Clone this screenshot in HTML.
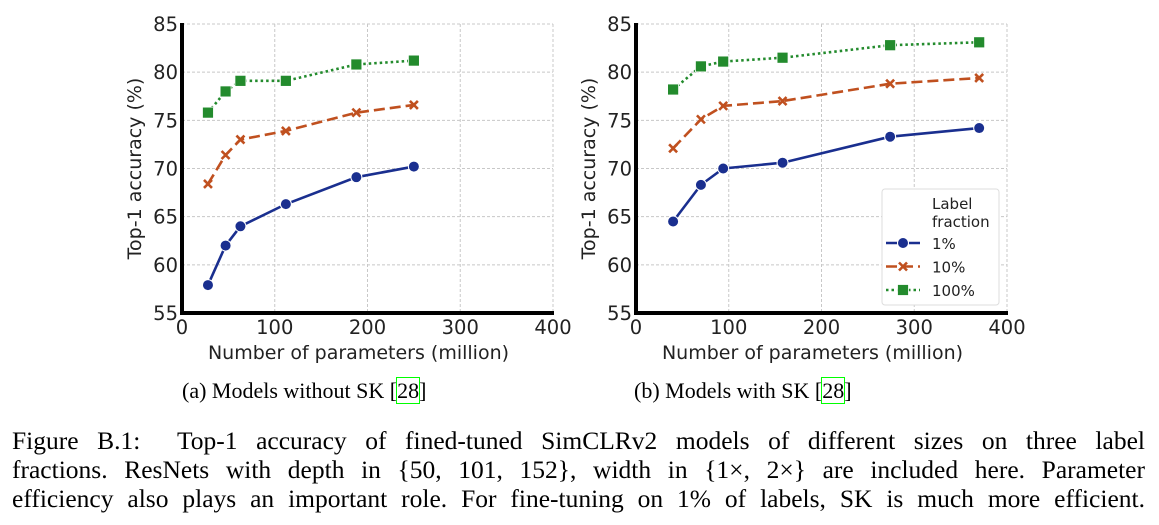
<!DOCTYPE html>
<html><head><meta charset="utf-8"><style>
body{margin:0;background:#fff;position:relative;width:1159px;height:525px;overflow:hidden;}
svg{display:block;position:absolute;left:0;top:0;}
.tick{font-family:"DejaVu Sans","Liberation Sans",sans-serif;font-size:19.5px;fill:#222;}
.lab{font-family:"DejaVu Sans","Liberation Sans",sans-serif;font-size:19px;fill:#222;}
.capline{position:absolute;left:12px;width:1133px;font-family:"Liberation Serif",serif;font-size:25.5px;line-height:29px;color:#000;text-align:justify;text-align-last:justify;white-space:nowrap;}
.sub{position:absolute;font-family:"Liberation Serif",serif;font-size:22px;line-height:26px;color:#000;white-space:nowrap;}
.cite{outline:1px solid #0f0;outline-offset:0;}
</style></head><body>
<svg id="fig" width="1159" height="525" viewBox="0 0 1159 525">
<g id="chartA"></g>
<g id="chartB"></g>
</svg>
<div class="sub" style="left:182px;top:378px">(a) Models without SK [<span class="cite">28</span>]</div>
<div class="sub" style="left:634px;top:378px">(b) Models with SK [<span class="cite">28</span>]</div>
<div class="capline" style="top:426px;white-space:normal">Figure B.1:&nbsp; Top-1 accuracy of fined-tuned SimCLRv2 models of different sizes on three label</div>
<div class="capline" style="top:455px;white-space:normal">fractions. ResNets with depth in {50, 101, 152}, width in {1×, 2×} are included here. Parameter</div>
<div class="capline" style="top:484px;white-space:normal">efficiency also plays an important role. For fine-tuning on 1% of labels, SK is much more efficient.</div>
<script>
const xA = [28, 47, 63, 112, 188, 250];
const a1 = [57.9, 62.0, 64.0, 66.3, 69.1, 70.2];
const a10 = [68.4, 71.4, 73.0, 73.9, 75.8, 76.6];
const a100 = [75.8, 78.0, 79.1, 79.1, 80.8, 81.2];
const xB = [40, 70, 94, 158, 274, 370];
const b1 = [64.5, 68.3, 70.0, 70.6, 73.3, 74.2];
const b10 = [72.1, 75.1, 76.5, 77.0, 78.8, 79.4];
const b100 = [78.2, 80.6, 81.1, 81.5, 82.8, 83.1];
const xTicks = [0, 100, 200, 300, 400];
const yTicks = [55, 60, 65, 70, 75, 80, 85];
const seriesNames = ['1%', '10%', '100%'];

const NS = 'http://www.w3.org/2000/svg';
function mk(tag, attrs, parent){const e=document.createElementNS(NS,tag);for(const k in attrs)e.setAttribute(k,attrs[k]);parent.appendChild(e);return e;}
const colors=['#1a2f8f','#c0501f','#238b2d'];
const dashes=['none','11,5','2.5,3'];

function marker(g,type,x,y,c){
  let m;
  if(type===0){m=mk('circle',{cx:x,cy:y,r:5.5,fill:c,stroke:'#fff','stroke-width':1},g);}
  else if(type===1){m=mk('path',{d:`M${x-4},${y-4}L${x+4},${y+4}M${x-4},${y+4}L${x+4},${y-4}`,stroke:c,'stroke-width':2.6},g);}
  else {m=mk('rect',{x:x-5.5,y:y-5.5,width:11,height:11,fill:c,stroke:'#fff','stroke-width':0.8},g);}
  return m;
}

function chart(g, x0, xs, ys, legend){
  const L=x0, R=x0+371, T=24, B=313;
  const sx=v=>L+(v/400)*(R-L);
  const sy=v=>B-(v-55)/30*(B-T);
  for(const t of xTicks){
    const gl=mk('line',{x1:sx(t),x2:sx(t),y1:T,y2:B,stroke:'#c8c8c8','stroke-dasharray':'3,2','stroke-width':1},g);
    
    
    const tx=mk('text',{x:sx(t),y:B+21,'text-anchor':'middle',class:'tick'},g);tx.textContent=t;
    
    
  }
  for(const t of yTicks){
    const gl=mk('line',{x1:L,x2:R,y1:sy(t),y2:sy(t),stroke:'#c8c8c8','stroke-dasharray':'3,2','stroke-width':1},g);
    
    
    const tx=mk('text',{x:L-4,y:sy(t)+7,'text-anchor':'end',class:'tick'},g);tx.textContent=t;
    
    
  }
  const ax=mk('path',{d:`M${L},${T-1}V${B}H${R+1}`,fill:'none',stroke:'#000','stroke-width':4},g);
  
  
  const xl=mk('text',{x:(L+R)/2-9,y:B+46,'text-anchor':'middle',class:'lab'},g);xl.textContent='Number of parameters (million)';
  
  
  const yl=mk('text',{transform:`translate(${L-41},${(T+B)/2}) rotate(-90)`,'text-anchor':'middle',class:'lab'},g);yl.textContent='Top-1 accuracy (%)';
  
  
  ys.forEach((arr,i)=>{
    const pts=arr.map((v,j)=>sx(xs[j])+','+sy(v)).join(' ');
    const pl=mk('polyline',{points:pts,fill:'none',stroke:colors[i],'stroke-width':2.6,'stroke-dasharray':dashes[i]},g);
    
    
    arr.forEach((v,j)=>{
      const m=marker(g,i,sx(xs[j]),sy(v),colors[i]);
      
      
    });
  });
  if(legend){
    const lg=mk('g',{},g);
    
    
    mk('rect',{x:882,y:189,width:117,height:116,rx:3,fill:'#fff',stroke:'#ddd','stroke-width':1},lg);
    const t1=mk('text',{x:932,y:209,class:'tick'},lg);t1.textContent='Label';t1.style.fontSize='15px';
    const t2=mk('text',{x:932,y:227,class:'tick'},lg);t2.textContent='fraction';t2.style.fontSize='15px';
    seriesNames.forEach((n,i)=>{
      const y=243+i*23.5;
      const ln=mk('line',{x1:886,x2:920,y1:y,y2:y,stroke:colors[i],'stroke-width':2.6,'stroke-dasharray':dashes[i]},lg);
      
      
      marker(lg,i,903,y,colors[i]);
      const tt=mk('text',{x:932,y:y+6,class:'tick'},lg);tt.textContent=n;tt.style.fontSize='15px';
      
      
    });
  }
}
chart(document.getElementById('chartA'),182,xA,[a1,a10,a100],false);
chart(document.getElementById('chartB'),636,xB,[b1,b10,b100],true);
</script>
</body></html>
